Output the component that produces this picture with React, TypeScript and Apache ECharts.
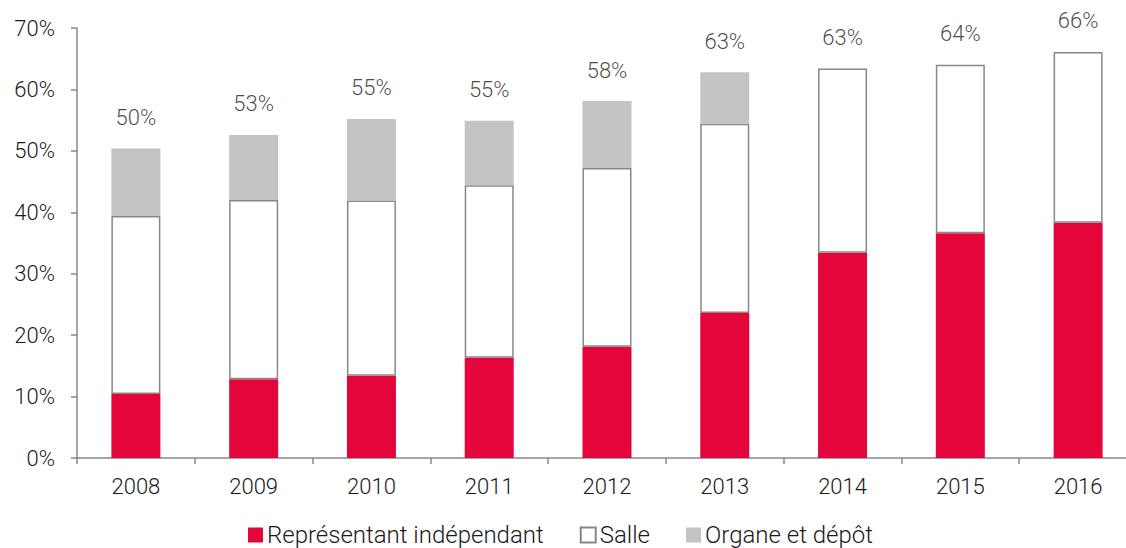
import React, { useEffect, useRef } from "react";
import * as echarts from "echarts";

const categories = ["2008", "2009", "2010", "2011", "2012", "2013", "2014", "2015", "2016"];
const representant = [10.4, 12.8, 13.4, 16.3, 18.1, 23.6, 33.4, 36.6, 38.3];
const salle = [29.0, 29.2, 28.5, 28.1, 29.1, 30.8, 30.0, 27.4, 27.8];
const organe = [11.0, 10.6, 13.3, 10.5, 10.9, 8.4, 0, 0, 0];
const totalLabels = ["50%", "53%", "55%", "55%", "58%", "63%", "63%", "64%", "66%"];

const FONT = "Roboto";

export default function App() {
  const ref = useRef<HTMLDivElement>(null);
  useEffect(() => {
    if (!ref.current) return;
    const chart = echarts.init(ref.current, undefined, { renderer: "svg" });
    const totals = categories.map((_, i) => +(representant[i] + salle[i] + organe[i]).toFixed(2));
    const txt = { color: "#1a1a1a", fontFamily: FONT, fontWeight: 300 };
    chart.setOption({
      animation: false,
      textStyle: { fontFamily: FONT },
      grid: { left: 77, right: 0, top: 28, bottom: 90 },
      legend: {
        top: 518,
        left: 243,
        itemWidth: 15,
        itemHeight: 15,
        itemGap: 36,
        icon: "rect",
        textStyle: { fontSize: 24, ...txt, padding: [0, 0, 0, -1] },
        data: ["Représentant indépendant", "Salle", "Organe et dépôt"],
      },
      xAxis: {
        type: "category",
        data: categories,
        axisLine: { lineStyle: { color: "#888", width: 1.5 } },
        axisTick: { show: true, length: 6, lineStyle: { color: "#888", width: 1.5 } },
        axisLabel: { fontSize: 22, margin: 17, ...txt },
      },
      yAxis: {
        type: "value",
        min: 0,
        max: 70,
        interval: 10,
        splitLine: { show: false },
        axisLine: { show: true, lineStyle: { color: "#888", width: 1.5 } },
        axisTick: { show: true, length: 6, lineStyle: { color: "#888", width: 1.5 } },
        axisLabel: { fontSize: 22, margin: 22, formatter: "{value}%", ...txt },
      },
      series: [
        {
          name: "Représentant indépendant",
          type: "bar",
          stack: "total",
          barWidth: 49,
          data: representant,
          itemStyle: { color: "#e4063b" },
        },
        {
          name: "Salle",
          type: "bar",
          stack: "total",
          barWidth: 49,
          data: salle,
          itemStyle: { color: "#ffffff", borderColor: "#888", borderWidth: 1.5 },
        },
        {
          name: "Organe et dépôt",
          type: "bar",
          stack: "total",
          barWidth: 49,
          data: organe,
          itemStyle: { color: "#c4c4c4" },
        },
        {
          name: "totals",
          type: "scatter",
          data: totals,
          symbolSize: 0,
          silent: true,
          label: {
            show: true,
            position: "top",
            distance: 20,
            fontSize: 22,
            ...txt,
            formatter: (p: any) => totalLabels[p.dataIndex],
          },
        },
      ],
    });
    return () => chart.dispose();
  }, []);
  return (
    <div style={{ position: "absolute", left: 0, top: 0, width: 1126, height: 548, overflow: "hidden" }}>
      <div ref={ref} style={{ width: 1137, height: 548 }} />
    </div>
  );
}
